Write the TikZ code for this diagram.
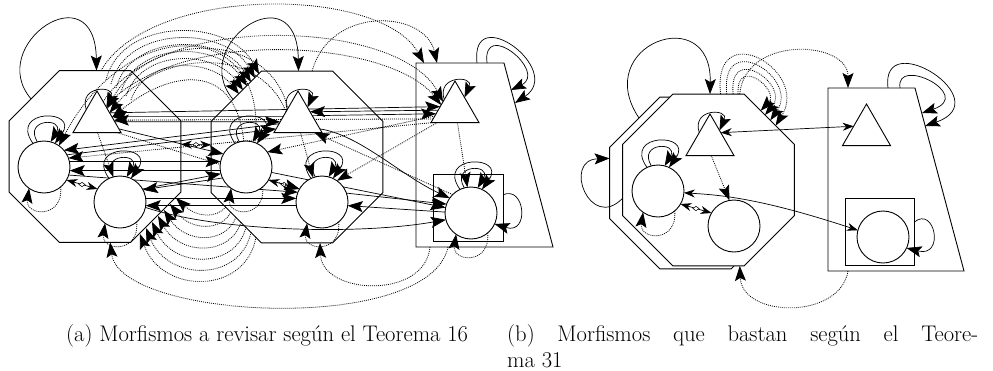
\documentclass[tikz,border=0pt]{standalone}
\usetikzlibrary{arrows.meta,shapes.geometric}
\pgfdeclarelayer{bg}
\pgfdeclarelayer{mid}
\pgfsetlayers{bg,mid,main}
\tikzset{
  shp/.style={draw, fill=white, line width=0.9pt, inner sep=0pt, outer sep=0pt},
  tri/.style={shp, regular polygon, regular polygon sides=3, minimum size=55.4pt},
  cir/.style={shp, circle, minimum size=52pt},
  oct/.style={shp, regular polygon, regular polygon sides=8, minimum size=186pt},
  ar/.style={line width=0.7pt, -{Stealth[length=15pt,width=11pt,inset=3pt]}},
  dar/.style={ar, dash pattern=on 0.9pt off 1.1pt, line width=0.8pt},
  dbl/.style={line width=0.7pt, {Stealth[length=11pt,width=8pt]}-{Stealth[length=11pt,width=8pt]}},
  dia/.style={diamond, draw, fill=white, inner sep=0pt, minimum width=6.5pt, minimum height=4.5pt, line width=0.5pt},
  captxt/.style={font=\fontsize{22.6}{26}\selectfont, inner sep=0pt},
}
\begin{document}
\begin{tikzpicture}[x=1pt,y=-1pt]
\useasboundingbox (0,0) rectangle (993,370);
% ---------- containers ----------
\begin{pgfonlayer}{bg}
  \node[oct] (O1) at (95,156.5) {};
  \node[oct] (O2) at (297,157) {};
  \draw[shp] (416,63) -- (504,63) -- (553,247) -- (416,247) -- cycle;
  \node[shp, rectangle, minimum width=70pt, minimum height=67pt] (S) at (468,207.5) {};
  \node[oct] (Obk) at (695.5,183) {};
  \node[oct] (Ob) at (708.5,180) {};
  \draw[shp] (828,88) -- (915,88) -- (964,271) -- (828,271) -- cycle;
  \node[shp, rectangle, minimum width=69pt, minimum height=67pt] (Sb) at (879.5,231.5) {};
\end{pgfonlayer}
% points on the trapezoids
\coordinate (Pt1) at (424,63);
\coordinate (Pt2) at (437,63);
\coordinate (Pt3) at (477,63);
\coordinate (Pt4) at (487,63);
\coordinate (Pr1) at (515,103);
\coordinate (Pr2) at (511,90);
\coordinate (Pb1) at (430,247);
\coordinate (Pb2) at (448,247);
\coordinate (Qt1) at (848,88);
\coordinate (Qt2) at (888,88);
\coordinate (Qt3) at (900,88);
\coordinate (Qr1) at (925,126);
\coordinate (Qr2) at (922,113);
\coordinate (Qb1) at (848,271);
% points on the octagon borders
\coordinate (U0) at (259,74);
\coordinate (U1) at (255,78);
\coordinate (U2) at (251,82);
\coordinate (U3) at (247,86);
\coordinate (U4) at (243,90);
\coordinate (U5) at (239,94);
\coordinate (A0) at (106,80);
\coordinate (A1) at (111,84);
\coordinate (A2) at (116,88);
\coordinate (A3) at (121,92);
\coordinate (A4) at (126,96);
\coordinate (A5) at (131,100);
\coordinate (L0) at (226,207);
\coordinate (L1) at (231,212);
\coordinate (L2) at (236,217);
\coordinate (L3) at (241,222);
\coordinate (L4) at (246,227);
\coordinate (L5) at (251,232);
\coordinate (L6) at (256,237);
\coordinate (M0) at (176,198);
\coordinate (M1) at (170,204);
\coordinate (M2) at (164,210);
\coordinate (M3) at (158,216);
\coordinate (M4) at (152,222);
\coordinate (M5) at (146,228);
\coordinate (M6) at (140,234);
% ---------- objects ----------
\node[tri] (T1) at (97,118.7) {};
\node[cir] (C1a) at (44,167) {};
\node[cir] (C1b) at (120,202) {};
\node[tri] (T2) at (298,118.7) {};
\node[cir] (C2a) at (246,167) {};
\node[cir] (C2b) at (322,202) {};
\node[tri] (T3) at (455,108.7) {};
\node[cir] (C3) at (471,213) {};
\node[tri] (Tb1) at (710,141.7) {};
\node[cir] (Cb1) at (658,191) {};
\node[cir] (Cb2) at (734,226) {};
\node[tri] (Tb2) at (866.5,131.7) {};
\node[cir] (Cb3) at (883,237) {};
% ---------- connectors ----------
\begin{pgfonlayer}{mid}
  % big loops of the octagons
  \draw[ar] (O1.138) .. controls (-15,45) and (95,-30) .. (O1.89);
  \draw[ar] (O2.138) .. controls (187,45) and (297,-30) .. (O2.89);
  % loops of the triangles
  \foreach \t in {T1,T2,T3,Tb1}
    \draw[ar] (\t.140) .. controls +(-8,-25) and +(10,-22) .. (\t.50);
  % double loops of the circles
  \foreach \c in {C1a,C1b,C2a,C2b,C3,Cb1} {
    \draw[ar] (\c.115) .. controls +(-25,-35) and +(25,-35) .. (\c.65);
    \draw[ar] (\c.105) .. controls +(-14,-24) and +(14,-24) .. (\c.75);
    \draw[dar] (\c.-50) .. controls +(3,32) and +(-4,28) .. (\c.235);
  }
  % loops of the trapezoid and the small circle
  \draw[ar] (Pt3) .. controls (470,0) and (565,70) .. (Pr1);
  \draw[ar] (Pt4) .. controls (482,18) and (548,72) .. (Pr2);
  \draw[ar] (S.20) .. controls (525,185) and (530,235) .. (C3.-25);
  % double arrows with a diamond
  \draw[dbl] (O1.8) -- node[dia]{} (O2.172);
  \draw[dbl] (C1a.-30) -- node[dia]{} (C1b.150);
  \draw[dbl] (C2a.-30) -- node[dia]{} (C2b.150);
  % solid morphisms (a)
  \draw[ar] (T1.25) -- (T3.172);
  \draw[ar] (T2.12) -- (T3.195);
  \draw[ar] (T2.172) -- (T1.8);
  \draw[ar] (T1.-10) -- (T2.190);
  \draw[ar] (T3.185) -- (T2.30);
  \draw[ar] (C1a.12) -- (C2a.168);
  \draw[ar] (C2a.188) -- (C1a.-8);
  \draw[ar] (C1b.8) -- (C2b.172);
  \draw[ar] (C2b.188) -- (C1b.-8);
  \draw[ar] (C1a.-18) -- (C2b.158);
  \draw[ar] (C2a.205) -- (C1b.28);
  \draw[ar] (C1a.28) -- (T2.205);
  \draw[ar] (T2.195) -- (C1a.40);
  \draw[ar] (T1.-25) -- (C2a.150);
  \draw[ar] (C1b.30) -- (C2a.195);
  \draw[ar] (C2a.-12) -- (C3.168);
  \draw[ar] (C2b.20) -- (C3.160);
  \draw[ar] (C3.178) -- (C2b.-8);
  \draw[ar] (C1b.-12) .. controls (220,232) and (360,235) .. (C3.195);
  \draw[ar] (T2.-25) .. controls (360,135) and (400,175) .. (C3.145);
  % dotted straight morphisms (a)
  \draw[dar] (T1.-88) -- (C1b.105);
  \draw[dar] (T2.-80) -- (C2b.110);
  \draw[dar] (T3.-80) -- (C3.98);
  \draw[dar] (T3.205) -- (T1.-5);
  \draw[dar] (T3.212) -- (C1a.20);
  \draw[dar] (T3.200) -- (C2a.35);
  \draw[dar] (T3.218) -- (C2b.55);
  \draw[dar] (C3.135) -- (T2.-40);
  \draw[dar] (T1.-35) -- (C2b.150);
  % upper bundle of dotted arcs
  \draw[dar] (A0) .. controls (121,17) and (229,17) .. (U0);
  \draw[dar] (A1) .. controls (126,25) and (225,25) .. (U1);
  \draw[dar] (A2) .. controls (131,33) and (221,33) .. (U2);
  \draw[dar] (A3) .. controls (136,41) and (217,41) .. (U3);
  \draw[dar] (A4) .. controls (141,49) and (213,49) .. (U4);
  \draw[dar] (A5) .. controls (146,57) and (209,57) .. (U5);
  \draw[dar] (T2.135) .. controls (270,30) and (150,30) .. (T1.45);
  \draw[dar] (T2.150) .. controls (260,45) and (160,50) .. (T1.25);
  \draw[dar] (C2a.95) .. controls (235,60) and (170,70) .. (T1.5);
  \draw[dar] (C2a.70) .. controls (270,20) and (130,10) .. (C1a.55);
  % dotted arcs to the trapezoid
  \draw[dar] (O1.86) .. controls (150,-15) and (380,-15) .. (Pt1);
  \draw[dar] (O2.80) .. controls (330,5) and (425,10) .. (Pt2);
  \draw[dar] (T1.70) .. controls (160,10) and (400,20) .. (T3.150);
  \draw[dar] (T1.55) .. controls (180,25) and (390,40) .. (T3.165);
  % lower bundle of dotted arcs
  \draw[dar] (L0) .. controls (216,218) and (198,218) .. (M0);
  \draw[dar] (L1) .. controls (221,231) and (192,231) .. (M1);
  \draw[dar] (L2) .. controls (226,244) and (186,244) .. (M2);
  \draw[dar] (L3) .. controls (231,256) and (180,256) .. (M3);
  \draw[dar] (L4) .. controls (236,269) and (174,269) .. (M4);
  \draw[dar] (L5) .. controls (241,282) and (168,282) .. (M5);
  \draw[dar] (L6) .. controls (246,295) and (162,295) .. (M6);
  \draw[dar] (Pb1) .. controls (425,300) and (322,295) .. (O2.-75);
  \draw[dar] (Pb2) .. controls (430,335) and (120,320) .. (O1.-80);
  % ---------- (b) ----------
  \draw[ar] (Obk.131) .. controls (590,45) and (712,0) .. (Ob.89);
  \draw[ar] (Ob.192) .. controls (590,232) and (562,160) .. (Obk.164);
  \draw[dar] (Ob.82.4) .. controls (712,15) and (810,70) .. (Ob.39.6);
  \draw[dar] (Ob.78.5) .. controls (720,28) and (800,78) .. (Ob.44.3);
  \draw[dar] (Ob.74.7) .. controls (728,42) and (790,85) .. (Ob.49);
  \draw[dar] (Ob.71.1) .. controls (736,55) and (780,90) .. (Ob.53.7);
  \draw[dar] (Ob.70) .. controls (745,35) and (848,40) .. (Qt1);
  \draw[dbl] (Tb1.40) -- (Tb2.157);
  \draw[dbl] (Cb1.-4) .. controls (720,195) and (760,198) .. (Cb3.165);
  \draw[dar] (Tb1.-85) -- (Cb2.100);
  \draw[dbl] (Cb1.-30) -- node[dia]{} (Cb2.150);
  \draw[dar] (Qb1) .. controls (840,320) and (742,318) .. (Ob.-70);
  \draw[ar] (Qt2) .. controls (880,25) and (1000,100) .. (Qr1);
  \draw[ar] (Qt3) .. controls (895,55) and (975,95) .. (Qr2);
  \draw[ar] (Sb.15) .. controls (935,205) and (945,258) .. (Cb3.-25);
\end{pgfonlayer}
% ---------- captions ----------
\node[captxt, anchor=base west] (capa) at (66,341) {(a) Morfismos a revisar según el Teorema 16};
\node[captxt, anchor=base west] (capb) at (507,341) {\makebox[471pt][s]{(b) Morfismos que bastan según el Teore-}};
\node[captxt, anchor=base west] (capc) at (507,367) {ma 31};
\end{tikzpicture}
\end{document}
